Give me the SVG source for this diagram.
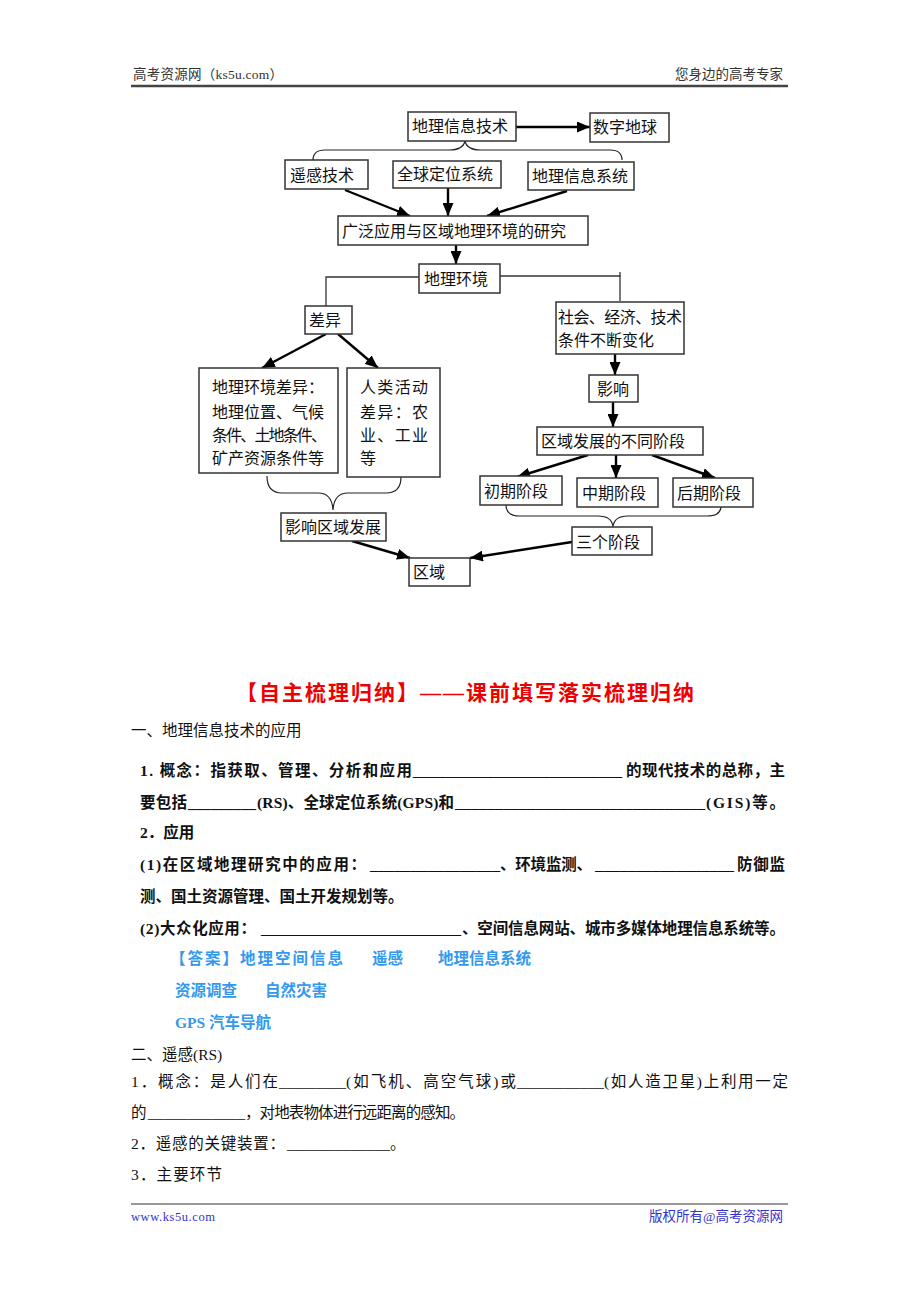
<svg xmlns="http://www.w3.org/2000/svg" width="920" height="1302" viewBox="0 0 920 1302">
<defs>
<marker id="ah" markerWidth="13" markerHeight="11" refX="13" refY="5.5" orient="auto" markerUnits="userSpaceOnUse"><path d="M0,0 L13,5.5 L0,11 z" fill="#000"/></marker>
<style>
text{font-family:"Liberation Serif","Noto Sans CJK SC",serif;fill:#111}
.box{fill:#fff;stroke:#333;stroke-width:1.5}
.lbl{font-size:16px}
.ar{stroke:#000;stroke-width:2.4;fill:none;marker-end:url(#ah)}
.ln{stroke:#333;stroke-width:1.3;fill:none}
.br{stroke:#222;stroke-width:1.2;fill:none}
.hd{font-size:13.5px;fill:#333}
.t{font-size:15.5px}
.b{font-size:15.5px;font-weight:bold}
.ans{font-size:15.5px;font-weight:bold;fill:#3399ee}
</style>
</defs>
<rect width="920" height="1302" fill="#fff"/>

<g id="header">
<text class="hd" x="133" y="79" textLength="150">高考资源网（ks5u.com）</text>
<text class="hd" x="783" y="79" text-anchor="end">您身边的高考专家</text>
<line x1="131" y1="86" x2="788" y2="86" stroke="#444" stroke-width="2.5"/>
</g>

<g id="connectors">
<line class="ar" x1="516" y1="127" x2="590" y2="127"/>
<path class="br" d="M313,160 Q313,150 325,150 L449,150 Q463,150 465,141 Q467,150 481,150 L610,150 Q622,150 622,160"/>
<line class="ar" x1="345" y1="190" x2="410" y2="216"/>
<line class="ar" x1="448" y1="188" x2="448" y2="216"/>
<line class="ar" x1="567" y1="191" x2="487" y2="216"/>
<line class="ar" x1="456" y1="245" x2="456" y2="264"/>
<polyline class="ln" points="419,277 326,277 326,306"/>
<polyline class="ln" points="500,276 620,276 620,301"/>
<line class="ln" x1="620" y1="272" x2="620" y2="276"/>
<line class="ar" x1="326" y1="334" x2="262" y2="368"/>
<line class="ar" x1="338" y1="334" x2="378" y2="368"/>
<path class="br" d="M267,476 Q267,493 282,493 L318,493 Q332,493 333,510 Q334,493 348,493 L386,493 Q401,493 401,477"/>
<line class="ar" x1="352" y1="541" x2="410" y2="558"/>
<line class="ar" x1="615" y1="354" x2="615" y2="375"/>
<line class="ar" x1="613" y1="402" x2="613" y2="427"/>
<line class="ar" x1="588" y1="455" x2="517" y2="477"/>
<line class="ar" x1="616" y1="455" x2="616" y2="478"/>
<line class="ar" x1="652" y1="455" x2="715" y2="478"/>
<path class="br" d="M506,505 Q506,516 520,516 L598,516 Q612,516 613,527 Q614,516 628,516 L707,516 Q721,516 721,506"/>
<line class="ar" x1="572" y1="542" x2="470" y2="558"/>
</g>

<g id="n-dlxxjs"><rect class="box" x="408" y="112" width="108" height="29"/><text class="lbl" x="412" y="132">地理信息技术</text></g>
<g id="n-szdq"><rect class="box" x="590" y="113" width="79" height="29"/><text class="lbl" x="593" y="133">数字地球</text></g>
<g id="n-ygjs"><rect class="box" x="285" y="160" width="83" height="29"/><text class="lbl" x="290" y="181">遥感技术</text></g>
<g id="n-qqdw"><rect class="box" x="393" y="161" width="108" height="27"/><text class="lbl" x="397" y="180">全球定位系统</text></g>
<g id="n-dlxxxt"><rect class="box" x="528" y="162" width="106" height="28"/><text class="lbl" x="532" y="182">地理信息系统</text></g>
<g id="n-gfyy"><rect class="box" x="338" y="216" width="250" height="29"/><text class="lbl" x="342" y="237">广泛应用与区域地理环境的研究</text></g>
<g id="n-dlhj"><rect class="box" x="419" y="264" width="81" height="29"/><text class="lbl" x="424" y="285">地理环境</text></g>
<g id="n-cy"><rect class="box" x="305" y="306" width="47" height="28"/><text class="lbl" x="309" y="326">差异</text></g>
<g id="n-dlhjcy"><rect class="box" x="199" y="368" width="139" height="105"/>
<text class="lbl" x="212" y="393">地理环境差异：</text>
<text class="lbl" x="212" y="418">地理位置、气候</text>
<text class="lbl" x="212" y="441" textLength="115">条件、土地条件、</text>
<text class="lbl" x="212" y="464">矿产资源条件等</text></g>
<g id="n-rlhd"><rect class="box" x="347" y="368" width="93" height="109"/>
<text class="lbl" x="360" y="393" textLength="68">人类活动</text>
<text class="lbl" x="360" y="418" textLength="68">差异：农</text>
<text class="lbl" x="360" y="441" textLength="68">业、工业</text>
<text class="lbl" x="360" y="464">等</text></g>
<g id="n-yxqyfz"><rect class="box" x="281" y="513" width="105" height="28"/><text class="lbl" x="285" y="533">影响区域发展</text></g>
<g id="n-qy"><rect class="box" x="409" y="558" width="61" height="28"/><text class="lbl" x="413" y="578">区域</text></g>
<g id="n-shjj"><rect class="box" x="556" y="302" width="128" height="52"/>
<text class="lbl" x="558" y="323" textLength="124">社会、经济、技术</text>
<text class="lbl" x="558" y="346">条件不断变化</text></g>
<g id="n-yx"><rect class="box" x="589" y="375" width="49" height="27"/><text class="lbl" x="597" y="395">影响</text></g>
<g id="n-qyfzbtjd"><rect class="box" x="537" y="427" width="166" height="28"/><text class="lbl" x="541" y="447">区域发展的不同阶段</text></g>
<g id="n-cqjd"><rect class="box" x="480" y="476" width="82" height="29"/><text class="lbl" x="484" y="497">初期阶段</text></g>
<g id="n-zqjd"><rect class="box" x="577" y="478" width="81" height="29"/><text class="lbl" x="582" y="499">中期阶段</text></g>
<g id="n-hqjd"><rect class="box" x="673" y="478" width="80" height="29"/><text class="lbl" x="677" y="499">后期阶段</text></g>
<g id="n-sgjd"><rect class="box" x="572" y="527" width="80" height="28"/><text class="lbl" x="576" y="548">三个阶段</text></g>

<g id="section">
<text x="236" y="700" font-size="21" font-weight="bold" style="fill:#ee0000" textLength="458">【自主梳理归纳】——课前填写落实梳理归纳</text>
<text class="t" x="131" y="736">一、地理信息技术的应用</text>

<text class="b" x="140" y="776" textLength="272">1. 概念：指获取、管理、分析和应用</text>
<text class="b" x="413" y="776" textLength="209" lengthAdjust="spacingAndGlyphs">__________________________</text>
<text class="b" x="626" y="776" textLength="159">的现代技术的总称，主</text>

<text class="b" x="140" y="808" textLength="47">要包括</text>
<text class="b" x="188" y="808" textLength="68" lengthAdjust="spacingAndGlyphs">_________</text>
<text class="b" x="257" y="808" textLength="197">(RS)、全球定位系统(GPS)和</text>
<text class="b" x="455" y="808" textLength="250" lengthAdjust="spacingAndGlyphs">_______________________________</text>
<text class="b" x="706" y="808" textLength="79">(GIS)等。</text>

<text class="b" x="140" y="838">2．应用</text>

<text class="b" x="140" y="870" textLength="226">(1)在区域地理研究中的应用：</text>
<text class="b" x="370" y="870" textLength="130" lengthAdjust="spacingAndGlyphs">________________</text>
<text class="b" x="500" y="870" textLength="92">、环境监测、</text>
<text class="b" x="595" y="870" textLength="139" lengthAdjust="spacingAndGlyphs">_________________</text>
<text class="b" x="737" y="870" textLength="48">防御监</text>

<text class="b" x="140" y="902">测、国土资源管理、国土开发规划等。</text>

<text class="b" x="140" y="934" textLength="116">(2)大众化应用：</text>
<text class="b" x="261" y="934" textLength="200" lengthAdjust="spacingAndGlyphs">_________________________</text>
<text class="b" x="462" y="934" textLength="323">、空间信息网站、城市多媒体地理信息系统等。</text>

<text class="ans" x="170" y="964" textLength="173">【答案】地理空间信息</text>
<text class="ans" x="372" y="964">遥感</text>
<text class="ans" x="438" y="964">地理信息系统</text>
<text class="ans" x="175" y="996">资源调查</text>
<text class="ans" x="265" y="996">自然灾害</text>
<text class="ans" x="175" y="1028">GPS 汽车导航</text>

<text class="t" x="131" y="1060">二、遥感(RS)</text>

<text class="t" x="131" y="1087" textLength="147">1．概念：是人们在</text>
<text class="t" x="279" y="1087" textLength="67" lengthAdjust="spacingAndGlyphs">_________</text>
<text class="t" x="346" y="1087" textLength="170">(如飞机、高空气球)或</text>
<text class="t" x="517" y="1087" textLength="87" lengthAdjust="spacingAndGlyphs">___________</text>
<text class="t" x="604" y="1087" textLength="184">(如人造卫星)上利用一定</text>

<text class="t" x="131" y="1118">的</text>
<text class="t" x="148" y="1118" textLength="97" lengthAdjust="spacingAndGlyphs">____________</text>
<text class="t" x="245" y="1118" textLength="220">，对地表物体进行远距离的感知。</text>

<text class="t" x="131" y="1149" textLength="154">2．遥感的关键装置：</text>
<text class="t" x="287" y="1149" textLength="103" lengthAdjust="spacingAndGlyphs">_____________</text>
<text class="t" x="390" y="1149">。</text>

<text class="t" x="131" y="1180" textLength="91">3．主要环节</text>
</g>

<g id="footer">
<line x1="131" y1="1204" x2="788" y2="1204" stroke="#333" stroke-width="1"/>
<text x="131" y="1221" font-size="12.5" style="fill:#3333cc" textLength="84">www.ks5u.com</text>
<text x="783" y="1221" font-size="13.5" text-anchor="end" style="fill:#3333cc">版权所有@高考资源网</text>
</g>
</svg>
